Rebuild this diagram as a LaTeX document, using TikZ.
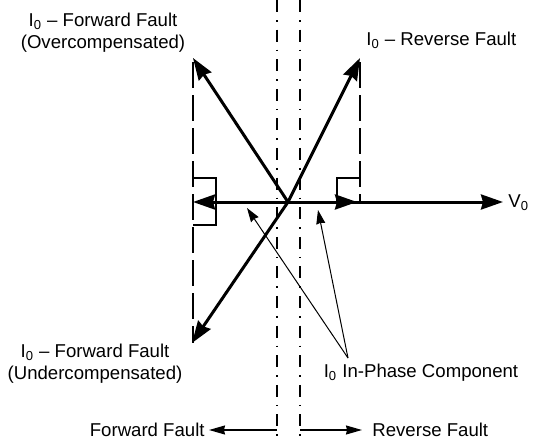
\documentclass[tikz,border=0pt]{standalone}
\usepackage{fontspec}
\setmainfont{Liberation Sans}
\usetikzlibrary{arrows.meta}
\begin{document}
\begin{tikzpicture}[x=0.5pt,y=-0.5pt,
  every node/.style={inner sep=0pt, font=\fontsize{9.3}{11}\selectfont},
  vector/.style={line width=1.5pt, -{Stealth[length=11pt,width=7.5pt,inset=1pt]}},
  pointer/.style={line width=0.5pt, -{Stealth[length=7pt,width=4.5pt,inset=0.5pt]}},
  faultdir/.style={line width=0.6pt, -{Stealth[length=8pt,width=4.5pt,inset=0.5pt]}},
  boundary/.style={line width=0.6pt, dash pattern=on 6pt off 4pt on 0.8pt off 4pt},
  limit/.style={line width=0.7pt, dash pattern=on 13pt off 3.5pt},
  bracket/.style={line width=0.6pt}]
\useasboundingbox (0,0) rectangle (537,439);

% key points of the phasor diagram
\coordinate (O) at (288,202);
\coordinate (fo) at (193,58);
\coordinate (rv) at (360,58);
\coordinate (fu) at (192,343);
\coordinate (vend) at (503,202);
\coordinate (inL) at (193,202);
\coordinate (inR) at (357,202);

% dash-dot boundaries of the directional zone
\coordinate (b1t) at (277,0);   \coordinate (b1b) at (277,439);
\coordinate (b2t) at (300,0);   \coordinate (b2b) at (300,439);
\draw[boundary] (b1t) -- (b1b);
\draw[boundary] (b2t) -- (b2b);

% long-dashed limits of the in-phase components
\coordinate (lt) at (193,62);  \coordinate (lb) at (193,343);
\coordinate (rt) at (360,62);  \coordinate (rb) at (360,202);
\draw[limit] (lt) -- (lb);
\draw[limit] (rt) -- (rb);

% brackets
\coordinate (k1) at (193,178); \coordinate (k2) at (216,178);
\coordinate (k3) at (216,225); \coordinate (k4) at (193,225);
\draw[bracket] (k1) -- (k2) -- (k3) -- (k4);
\coordinate (k5) at (337,202); \coordinate (k6) at (337,178);
\coordinate (k7) at (360,178);
\draw[bracket] (k5) -- (k6) -- (k7);

% phasors
\draw[vector] (O) -- (vend);
\draw[vector] (O) -- (inL);
\draw[vector] (O) -- (inR);
\draw[vector] (O) -- (fo);
\draw[vector] (O) -- (rv);
\draw[vector] (O) -- (fu);

% labels
\node[align=center] (lblFO) at (103,33) {I\textsubscript{0} – Forward Fault\\(Overcompensated)};
\node[anchor=west] (lblRV) at (366,40) {I\textsubscript{0} – Reverse Fault};
\node[anchor=west] (lblV) at (508,203) {V\textsubscript{0}};
\node[align=center] (lblFU) at (95,364) {I\textsubscript{0} – Forward Fault\\(Undercompensated)};

% in-phase component callout
\coordinate (ap) at (348,358);
\coordinate (t1) at (247,208);
\coordinate (t2) at (318,210);
\draw[pointer] (ap) -- (t1);
\draw[pointer] (ap) -- (t2);
\node[anchor=north] (lblIP) at (421,364) {I\textsubscript{0} In-Phase Component};

% fault direction legend
\coordinate (fwdtail) at (277,430);
\coordinate (revtail) at (300,430);
\node[anchor=east] (fwd) at (205,430) {Forward Fault};
\node[anchor=west] (rev) at (372,430) {Reverse Fault};
\draw[faultdir, shorten >=2pt] (fwdtail) -- (fwd);
\draw[faultdir, shorten >=5pt] (revtail) -- (rev);
\end{tikzpicture}
\end{document}
